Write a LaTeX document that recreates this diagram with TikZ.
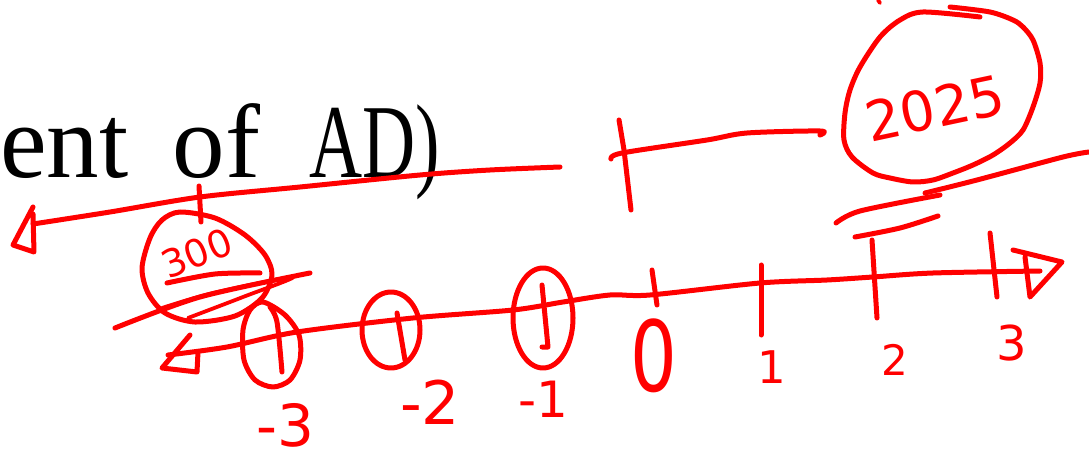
\documentclass[tikz,border=0pt]{standalone}
\usepackage{fontspec}
\newfontfamily\serifx{Liberation Serif}
\newfontfamily\handx{DejaVu Sans}
\definecolor{inkred}{RGB}{255,0,0}
\begin{document}
\begin{tikzpicture}[x=1pt,y=-1pt,
  ink/.style={draw=inkred, line width=5pt, line cap=round, line join=round},
  thinink/.style={ink, line width=3.8pt},
  lbl/.style={text=inkred, font=\handx, inner sep=0pt}]
\useasboundingbox (0,0) rectangle (1089,462);
\fill[white] (0,0) rectangle (1089,462);

% printed text
\node[anchor=base west, inner sep=0pt, font=\serifx\fontsize{105}{105}\selectfont] (title) at (0,178)
  {ent \hspace{18pt}of \hspace{23pt}\scalebox{0.70}[1]{AD)}};

% upper (struck) line with left arrowhead
\draw[ink] plot[smooth] coordinates {(33,224) (110,212) (200,197) (300,187) (420,175) (490,170) (560,167)};
\draw[ink] (33,207) -- (13,245) -- (34,252) -- (33,214);
\draw[ink] (199,186) -- (201,222);
\draw[ink] plot[smooth] coordinates {(611,159) (622,153) (707,140) (747,133) (820,131) (820,135)};
\draw[ink] (619,120) -- (624,150) -- (631,210);

% 2025 circle
\draw[ink] plot[smooth] coordinates {(980,17) (923,12) (900,20) (880,37) (860,67) (850,90) (845,113) (844,140) (852,157) (873,173) (890,178) (913,182) (933,180) (953,173) (973,165) (993,155) (1010,143) (1023,130) (1033,107) (1040,83) (1040,63) (1033,40) (1023,27) (1013,20) (990,12) (950,7)};
\node[lbl, font=\handx\fontsize{55}{55}\selectfont, rotate=12] (y2025) at (935,108) {2025};
\draw[thinink] (878,0) -- (880,3);

% strokes under 2025
\draw[ink] plot[smooth] coordinates {(925,193) (977,180) (1063,157) (1089,152)};
\draw[ink] plot[smooth] coordinates {(836,223) (860,211) (940,195)};
\draw[ink] plot[smooth] coordinates {(855,237) (900,228) (938,216)};

% 300 circle and strike lines
\draw[ink] plot[smooth cycle] coordinates {(180,212) (215,218) (245,235) (265,255) (272,275) (262,298) (235,316) (195,322) (165,313) (148,293) (142,268) (150,238) (162,220)};
\node[lbl, font=\handx\fontsize{38}{38}\selectfont, rotate=22] (y300) at (197,253) {300};
\draw[ink] plot[smooth] coordinates {(115,328) (200,297) (310,273)};
\draw[ink] plot[smooth] coordinates {(167,283) (215,274) (260,273)};
\draw[thinink] plot[smooth] coordinates {(162,308) (213,293) (293,277) (243,297) (188,318)};

% lower number line
\draw[ink] (190,335) -- (162,368) -- (197,372) -- (198,352);
\draw[ink] plot[smooth] coordinates {(168,355) (227,347) (297,332) (413,318) (513,310) (563,302) (610,295) (650,295) (760,283) (827,280) (873,277) (933,273) (1040,271)};
\draw[ink] (1013,250) -- (1062,262) -- (1030,297) -- (1025,257);

% circled ticks
\draw[ink] plot[smooth cycle] coordinates {(263,302) (285,315) (299,335) (300,360) (290,380) (273,387) (255,380) (244,360) (243,330) (250,310)};
\draw[ink] plot[smooth] coordinates {(270,307) (277,322) (282,372)};
\draw[ink] (391,330) ellipse [x radius=29, y radius=38];
\draw[ink] (397,313) -- (405,360);
\draw[ink] (543,318) ellipse [x radius=30, y radius=50];
\draw[ink] (542,285) -- (548,347) -- (542,347);

% plain ticks
\draw[ink] (652,270) -- (657,305);
\draw[ink] (761,265) -- (761,335);
\draw[ink] (872,240) -- (877,318);
\draw[ink] (990,233) -- (997,297);

% labels
\node[lbl, font=\handx\fontsize{58}{58}\selectfont] (m3) at (285,425) {-3};
\node[lbl, font=\handx\fontsize{60}{60}\selectfont] (m2) at (430,402) {-2};
\node[lbl, font=\handx\fontsize{50}{50}\selectfont] (m1) at (543,399) {-1};
\node[lbl, font=\handx\fontsize{98}{98}\selectfont, xscale=0.75] (z0) at (654,356) {0};
\node[lbl, font=\handx\fontsize{45}{45}\selectfont] (p1) at (772,367) {1};
\node[lbl, font=\handx\fontsize{42}{42}\selectfont] (p2) at (895,360) {2};
\node[lbl, font=\handx\fontsize{48}{48}\selectfont] (p3) at (1012,343) {3};
\end{tikzpicture}
\end{document}
